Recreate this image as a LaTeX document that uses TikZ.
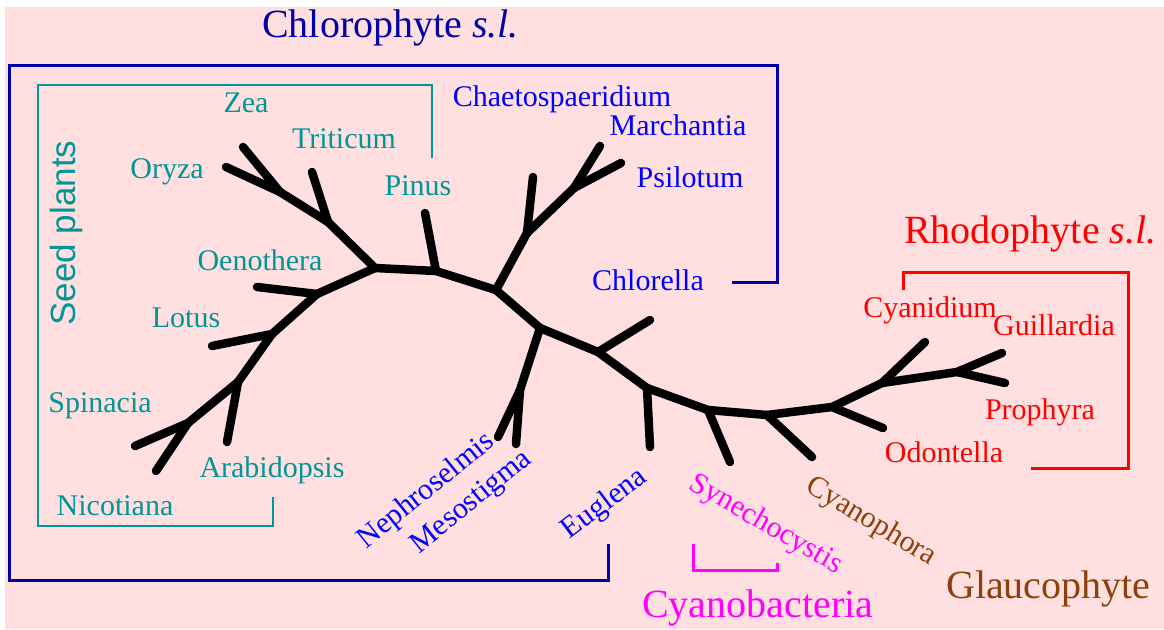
\documentclass[tikz,border=0pt]{standalone}
\usepackage{fontspec}
\setmainfont{Liberation Serif}
\newfontfamily\plantsans{Liberation Sans}
\definecolor{bgpink}{RGB}{255,223,223}
\definecolor{chlorodark}{RGB}{0,0,165}
\definecolor{chloroblue}{RGB}{0,0,255}
\definecolor{seedteal}{RGB}{0,150,150}
\definecolor{rhodored}{RGB}{255,0,0}
\definecolor{cyanomag}{RGB}{255,0,255}
\definecolor{glaucobrown}{RGB}{140,64,10}

\begin{document}
\begin{tikzpicture}[x=1pt,y=-1pt,
    taxon/.style={anchor=base,inner sep=0pt,font=\fontsize{30}{36}\selectfont},
    group/.style={anchor=base west,inner sep=0pt,font=\fontsize{40}{48}\selectfont},
    branch/.style={line width=8.5pt,line cap=round,line join=round}]
    \useasboundingbox (0,0) rectangle (1164,629);
    \fill[white] (0,0) rectangle (1164,629);
    \fill[bgpink] (5,7) rectangle (1164,629);

    % group frames
    \draw[chlorodark,line width=3pt] (732,282) -- (777,282) -- (777,65) -- (9,65)
        -- (9,580) -- (608,580) -- (608,544);
    \draw[seedteal,line width=2pt] (432,158) -- (432,85) -- (38,85) -- (38,526)
        -- (273,526) -- (273,497);
    \draw[rhodored,line width=3pt] (903,290) -- (903,272) -- (1128,272)
        -- (1128,468) -- (1031,468);
    \draw[cyanomag,line width=3pt] (693,544) -- (693,570) -- (777,570) -- (777,563);

    % group names
    \node[group,chlorodark] (chloro) at (262,37) {Chlorophyte \textit{s.l.}};
    \node[group,rhodored] (rhodo) at (904,243) {Rhodophyte \textit{s.l.}};
    \node[group,glaucobrown] (glauco) at (946,598) {Glaucophyte};
    \node[group,cyanomag] (cyanob) at (642,617) {Cyanobacteria};
    \node[seedteal,rotate=90,inner sep=0pt,font=\plantsans\fontsize{35}{42}\selectfont]
        (seed) at (66,233) {Seed plants};

    % branch points and tips
    \foreach \n/\x/\y in {
        s0/375/268, s1/328/222, s2/280/192, s3/317/294, s4/272/334,
        s5/238/382, s6/188/423,
        tZea/243/147, tOryza/226/167, tTriticum/312/172, tOenothera/257/287,
        tLotus/212/346, tArabidopsis/227/442, tSpinacia/135/446,
        tNicotiana/156/471,
        p1/436/271, p2/496/290, c1/527/233, c2/574/188,
        tPinus/425/213, tChaeto/533/177, tMarchantia/600/146, tPsilotum/621/163,
        p3/540/328, m1/520/390, tNephro/498/437, tMeso/516/444,
        p4/598/352, tChlorella/650/320, p5/647/388, tEuglena/650/447,
        p6/708/410, tSynecho/730/462, p7/767/415, tCyanophora/812/457,
        p8/832/407, tOdontella/883/428, p9/882/383, tCyanidium/925/342,
        p10/957/372, tGuillardia/1002/353, tProphyra/1005/383}
        \coordinate (\n) at (\x,\y);

    % tree
    \foreach \a/\b in {
        tZea/s2, tOryza/s2, s2/s1, tTriticum/s1, s1/s0, s0/s3, tOenothera/s3,
        s3/s4, tLotus/s4, s4/s5, tArabidopsis/s5, s5/s6, tSpinacia/s6,
        tNicotiana/s6, s0/p1, tPinus/p1, p1/p2, p2/c1, tChaeto/c1, c1/c2,
        tMarchantia/c2, tPsilotum/c2, p2/p3, p3/m1, m1/tNephro, m1/tMeso,
        p3/p4, tChlorella/p4, p4/p5, tEuglena/p5, p5/p6, tSynecho/p6,
        p6/p7, tCyanophora/p7, p7/p8, tOdontella/p8, p8/p9, tCyanidium/p9,
        p9/p10, tGuillardia/p10, tProphyra/p10}
        \draw[branch] (\a) -- (\b);

    % taxon labels
    \foreach \t/\x/\y in {Zea/246/112, Triticum/344/148, Oryza/167/178,
        Pinus/418/195, Oenothera/260/270, Lotus/186/327, Spinacia/100/412,
        Arabidopsis/272/477, Nicotiana/115/515}
        \node[taxon,seedteal] (\t) at (\x,\y) {\t};
    \foreach \t/\x/\y in {Chaetospaeridium/562/106, Marchantia/678/135,
        Psilotum/690/187, Chlorella/648/290}
        \node[taxon,chloroblue] (\t) at (\x,\y) {\t};
    \foreach \t/\x/\y in {Cyanidium/930/317, Guillardia/1054/335,
        Prophyra/1040/419, Odontella/944/462}
        \node[taxon,rhodored] (\t) at (\x,\y) {\t};

    \node[taxon,chloroblue,rotate=39] (Nephroselmis) at (431,497) {Nephroselmis};
    \node[taxon,chloroblue,rotate=39] (Mesostigma) at (476,508) {Mesostigma};
    \node[taxon,chloroblue,rotate=37] (Euglena) at (609,510) {Euglena};
    \node[taxon,cyanomag,rotate=-30] (Synechocystis) at (762,531) {Synechocystis};
    \node[taxon,glaucobrown,rotate=-31] (Cyanophora) at (867,528) {Cyanophora};
\end{tikzpicture}
\end{document}
